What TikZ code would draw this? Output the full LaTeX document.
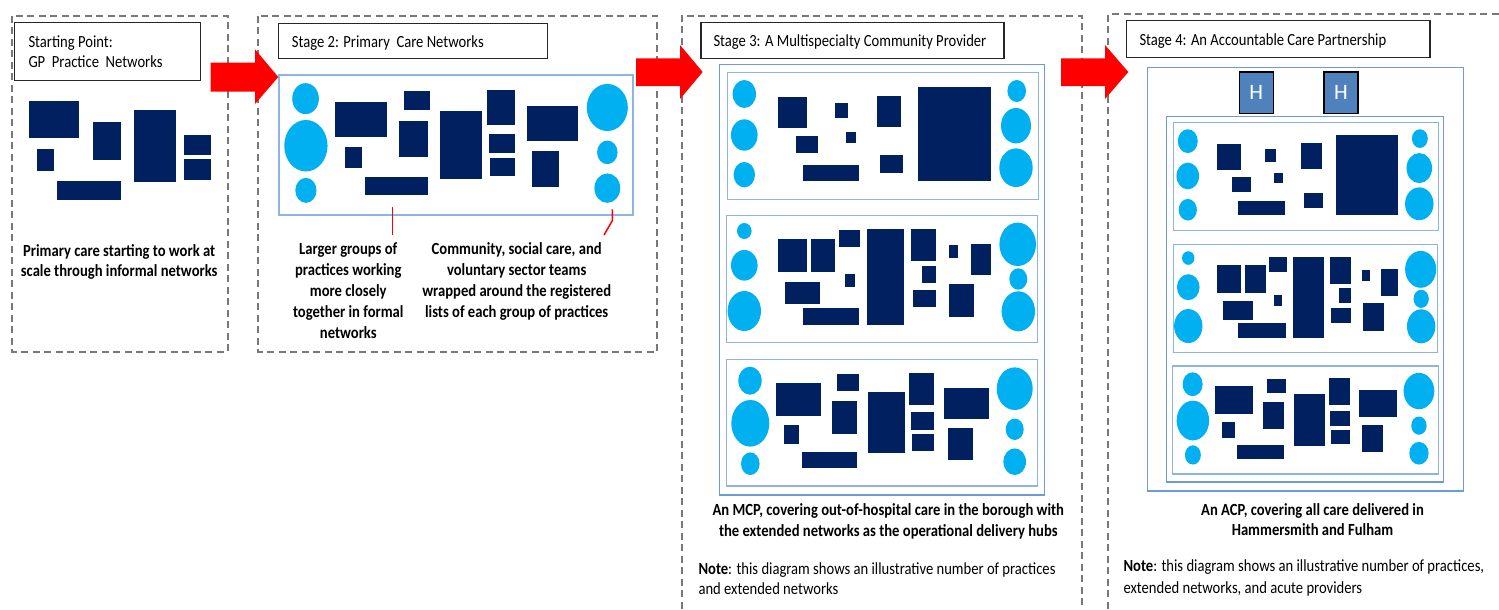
\documentclass[tikz,border=0pt]{standalone}
\usepackage{fontspec}
\setmainfont{Carlito}
\definecolor{mynavy}{RGB}{0,32,96}
\definecolor{mylblue}{RGB}{0,176,240}
\definecolor{pline}{RGB}{141,180,226}
\definecolor{oline}{RGB}{110,155,215}
\definecolor{dgray}{RGB}{120,120,120}
\definecolor{hblue}{RGB}{79,129,189}
\newcommand\myR[4]{\fill[mynavy] (#1,#2) rectangle (#3,#4);}
\newcommand\myE[4]{\fill[mylblue] (#1,#2) ellipse [x radius=#3, y radius=#4];}
\newcommand\sx[1]{\scalebox{0.86}[1]{#1}}
% pattern A (box 311 x 127)
\newcommand\patA{%
 \draw[pbox] (0,0) rectangle (311,127);
 \myE{17}{21.7}{11.7}{14}
 \myE{17}{62.7}{13.3}{15.7}
 \myE{17}{102.4}{10.7}{12.7}
 \myR{51}{25}{79.7}{55.7}
 \myR{108}{30.4}{121}{46}
 \myR{149.4}{24}{174}{55}
 \myR{68.4}{64}{90.7}{81}
 \myR{118.7}{59.7}{128.4}{71}
 \myR{76}{92.7}{131.4}{108.7}
 \myR{153}{83}{175.4}{100.4}
 \myR{190.7}{15}{264}{108.7}
 \myE{289.4}{18.7}{9.3}{11}
 \myE{288.7}{53.4}{15}{17.7}
 \myE{288.7}{95.4}{16.7}{19.3}
}
% pattern B (box 311 x 127)
\newcommand\patB{%
 \draw[pbox] (0,0) rectangle (311,127);
 \myE{17.6}{15.7}{7.3}{8}
 \myE{17.6}{50}{13.3}{15.3}
 \myE{17.6}{95.7}{16.7}{20}
 \myR{51}{24}{80}{56.4}
 \myR{84}{24}{108.6}{56.4}
 \myR{112}{14.7}{133.6}{32}
 \myR{58.6}{66.4}{93.3}{88.7}
 \myR{118.6}{59}{128.3}{71.7}
 \myR{76.6}{92.4}{132}{109.7}
 \myR{140.3}{14}{177}{109.7}
 \myR{184.3}{14}{209.3}{45.7}
 \myR{195}{50.4}{209.3}{68}
 \myR{186}{74.7}{209.3}{91.7}
 \myR{222}{30}{231.6}{43}
 \myR{244.3}{28.4}{264.6}{60}
 \myR{222.6}{69}{247.3}{101.7}
 \myE{291}{29}{18.3}{21.7}
 \myE{291.6}{63.7}{9}{10.7}
 \myE{291.6}{96}{16.7}{20}
}
% pattern C (box 310.6 x 126.7)
\newcommand\patC{%
 \draw[pbox] (0,0) rectangle (310.6,126.7);
 \myE{23.3}{21.4}{11.7}{14}
 \myE{23.6}{64}{19}{23.3}
 \myE{23.6}{104.4}{9.3}{11.3}
 \myR{49.3}{24}{94.3}{56.4}
 \myR{57.6}{65.4}{72.6}{84.4}
 \myR{110}{14.7}{132.6}{32}
 \myR{105.3}{42}{130.3}{74.4}
 \myR{75}{92.4}{130.3}{108.7}
 \myR{141.3}{33}{178}{94}
 \myR{182.6}{14}{207.3}{45.4}
 \myR{184.3}{53}{207.3}{71}
 \myR{185}{74.7}{207.3}{91.4}
 \myR{217.6}{28.4}{262.6}{60}
 \myR{221.6}{69}{246}{101}
 \myE{288}{29.4}{18}{21.3}
 \myE{288}{70}{9}{10.7}
 \myE{288}{102.4}{11.3}{13.3}
}
\begin{document}
\begin{tikzpicture}[x=1pt,y=-1pt,
  dbox/.style={draw=dgray, line width=1.7pt, dash pattern=on 7pt off 4.5pt},
  tbox/.style={draw=black!85, line width=1.3pt, fill=white},
  pbox/.style={draw=pline, line width=1.3pt},
  obox/.style={draw=oline, line width=1.3pt},
  txt/.style={font=\fontsize{17}{20.7}\selectfont, inner sep=0pt, anchor=base},
  ltxt/.style={txt, anchor=base west},
  redarrow/.style={fill=red},
  redline/.style={draw=red, line width=1.5pt},
  hbox/.style={draw=black, line width=1.6pt, fill=hblue, text=white,
    minimum width=34pt, minimum height=41pt, inner sep=0pt,
    font=\fontsize{22}{24}\selectfont}]
\useasboundingbox (0,0) rectangle (1499,610);
\fill[white] (0,0) rectangle (1499,610);
\clip (0,0) rectangle (1499,610);

% dashed stage frames
\draw[dbox] (12.3,15.7) rectangle (227.7,351.7);
\draw[dbox] (258.3,15.7) rectangle (657.3,351.7);
\draw[dbox] (681.7,620) -- (681.7,15.7) -- (1081.7,15.7) -- (1081.7,620);
\draw[dbox] (1108.3,620) -- (1108.3,14.3) -- (1510,14.3);

% ---------- Stage 1 ----------
\draw[tbox] (14.7,22.7) rectangle (200.3,80.3);
\node[ltxt] (t1a) at (28.3,47.7) {\sx{Starting Point:}};
\node[ltxt] (t1b) at (28.3,67.7) {\sx{GP~ Practice~ Networks}};
\myR{29}{101}{79.3}{137.7}
\myR{36.7}{149.3}{54}{171.3}
\myR{92.7}{122.3}{121.3}{160}
\myR{57}{181}{121.3}{200}
\myR{133.7}{110.3}{176.3}{182}
\myR{184.3}{134.7}{211.3}{154.7}
\myR{184.3}{159}{211.3}{179.7}
\node[txt] (s1a) at (119.2,256.5) {\sx{\textbf{Primary care starting to work at}}};
\node[txt] (s1b) at (119.2,276.5) {\sx{\textbf{scale through informal networks}}};

% ---------- Stage 2 ----------
\draw[tbox] (278.3,23.3) rectangle (547.3,58.3);
\node[ltxt] (t2) at (291.7,47.3) {\sx{Stage 2: Primary~ Care Networks}};
\begin{scope}[shift={(279,75)}, xscale=1.14, yscale=1.105]
  \patC
\end{scope}
\coordinate (c1a) at (392.7,206.7);
\coordinate (c1b) at (392.7,235);
\draw[redline] (c1a) -- (c1b);
\coordinate (c2a) at (612.3,209.3);
\coordinate (c2b) at (612.3,220.7);
\coordinate (c2c) at (604,235);
\draw[redline] (c2a) -- (c2b) -- (c2c);
\node[txt] (s2a) at (348.3,254.3) {\sx{\textbf{Larger groups of}}};
\node[txt] (s2b) at (348.3,275.3) {\sx{\textbf{practices working}}};
\node[txt] (s2c) at (348.3,296.3) {\sx{\textbf{more closely}}};
\node[txt] (s2d) at (348.3,317.3) {\sx{\textbf{together in formal}}};
\node[txt] (s2e) at (348.3,338.3) {\sx{\textbf{networks}}};
\node[txt] (s2f) at (516.7,254.3) {\sx{\textbf{Community, social care, and}}};
\node[txt] (s2g) at (516.7,275.3) {\sx{\textbf{voluntary sector teams}}};
\node[txt] (s2h) at (516.7,296.3) {\sx{\textbf{wrapped around the registered}}};
\node[txt] (s2i) at (516.7,317.3) {\sx{\textbf{lists of each group of practices}}};

% ---------- Stage 3 ----------
\draw[tbox] (701,22.7) rectangle (1004,58.7);
\node[ltxt] (t3) at (713.3,46.7) {\sx{Stage 3: A Multispecialty Community Provider}};
\draw[obox] (719.3,64.3) rectangle (1044.3,495);
\begin{scope}[shift={(727.3,72.3)}] \patA \end{scope}
\begin{scope}[shift={(726.7,215.3)}] \patB \end{scope}
\begin{scope}[shift={(726.7,359.3)}] \patC \end{scope}
\node[txt] (s3a) at (888.3,515.7) {\sx{\textbf{An MCP, covering out-of-hospital care in the borough with}}};
\node[txt] (s3b) at (888.3,536.7) {\sx{\textbf{the extended networks as the operational delivery hubs}}};
\node[ltxt] (n3a) at (698.3,574) {\sx{\textbf{Note}: this diagram shows an illustrative number of practices}};
\node[ltxt] (n3b) at (698.3,594.7) {\sx{and extended networks}};

% ---------- Stage 4 ----------
\draw[tbox] (1126.7,20.7) rectangle (1430,57.3);
\node[ltxt] (t4) at (1139.3,45.3) {\sx{Stage 4: An Accountable Care Partnership}};
\draw[obox] (1147.3,67.3) rectangle (1463.3,491);
\node[hbox] (h1) at (1256.3,92.8) {H};
\node[hbox] (h2) at (1341,92.8) {H};
\draw[obox] (1166.7,116.7) rectangle (1443.3,482);
\begin{scope}[shift={(1173.3,122.7)}, xscale=0.852, yscale=0.850] \patA \end{scope}
\begin{scope}[shift={(1173.3,244.7)}, xscale=0.850, yscale=0.850] \patB \end{scope}
\begin{scope}[shift={(1172.7,366)}, xscale=0.855, yscale=0.852] \patC \end{scope}
\node[txt] (s4a) at (1312.5,515) {\sx{\textbf{An ACP, covering all care delivered in}}};
\node[txt] (s4b) at (1312.5,535) {\sx{\textbf{Hammersmith and Fulham}}};
\node[ltxt] (n4a) at (1123.3,571.7) {\sx{\textbf{Note}: this diagram shows an illustrative number of practices,}};
\node[ltxt] (n4b) at (1123.3,593.3) {\sx{extended networks, and acute providers}};

% ---------- red arrows ----------
\fill[redarrow] (210.7,62.7) -- (255,62.7) -- (255,49.3) -- (278.3,77) -- (255,104) -- (255,91.7) -- (210.7,91.7) -- cycle;
\fill[redarrow] (636,58.3) -- (680,58.3) -- (680,45) -- (702.7,72) -- (680,99) -- (680,86) -- (636,86) -- cycle;
\fill[redarrow] (1061,58.3) -- (1105,58.3) -- (1105,45) -- (1128.3,72) -- (1105,99) -- (1105,86) -- (1061,86) -- cycle;
\end{tikzpicture}
\end{document}
